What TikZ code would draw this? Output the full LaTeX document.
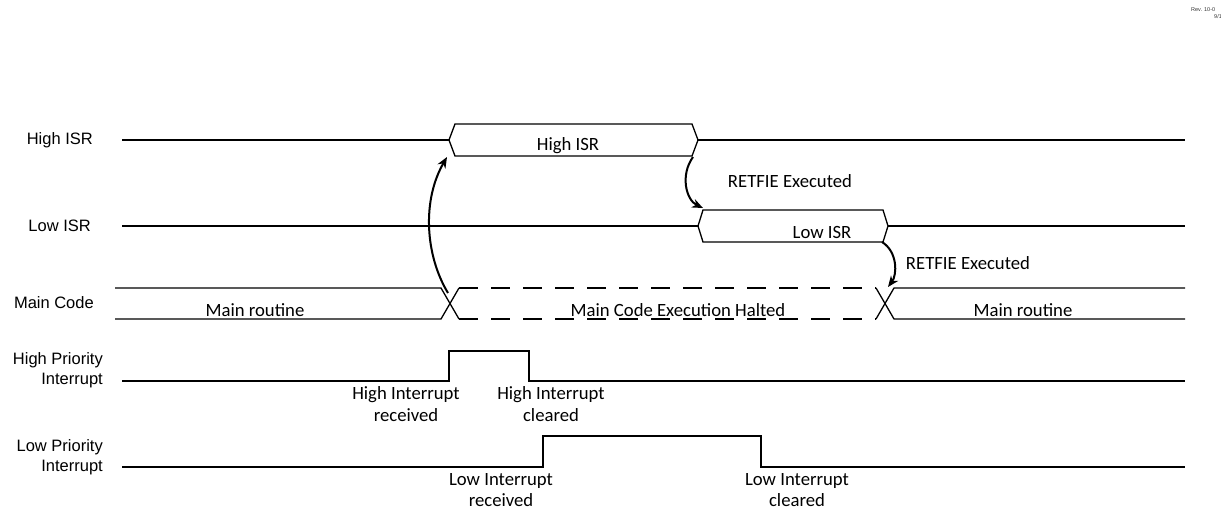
\documentclass[tikz,border=0pt]{standalone}
\usepackage{fontspec}
\newfontfamily\calfont{Carlito}
\newfontfamily\arifont{Liberation Sans}
\usetikzlibrary{arrows.meta}
\tikzset{
  sig/.style={line width=1.3pt, line join=miter},
  dsig/.style={line width=1.3pt, dash pattern=on 19pt off 13pt},
  evarrow/.style={line width=2pt, -{Stealth[length=11pt,width=9pt]}},
  lab/.style={font=\arifont\fontsize{16.5pt}{20pt}\selectfont, inner sep=0pt, align=right},
  txt/.style={font=\calfont\fontsize{18.7pt}{21.5pt}\selectfont, inner sep=0pt, align=center},
  rev/.style={font=\arifont\fontsize{5.5pt}{6pt}\selectfont, inner sep=0pt, text=black!80}
}
\begin{document}
\begin{tikzpicture}[x=1pt,y=-1pt]
\useasboundingbox (0,0) rectangle (1221,510);
% revision mark
\node[rev, anchor=west] (rev1) at (1191,10) {Rev. 10-0};
\node[rev, anchor=west] (rev2) at (1214,17) {9/1};
% left labels
\node[lab, anchor=east] (lhigh) at (93,140) {High ISR};
\node[lab, anchor=east] (llow) at (91,226) {Low ISR};
\node[lab, anchor=east] (lmain) at (94,303) {Main Code};
\node[lab, anchor=east] (lhp) at (103,370) {High Priority\\Interrupt};
\node[lab, anchor=east] (llp) at (103,457) {Low Priority\\Interrupt};
% High ISR row
\draw[sig] (122,140) -- (449,140);
\draw[sig] (449,140) -- (455,124) -- (692,124) -- (698,140) -- (692,156) -- (455,156) -- cycle;
\draw[sig] (698,140) -- (1185,140);
\node[txt] (thigh) at (568,146) {High ISR};
% Low ISR row
\draw[sig] (122,226) -- (698,226);
\draw[sig] (698,226) -- (703,210) -- (883,210) -- (888,226) -- (883,242) -- (703,242) -- cycle;
\draw[sig] (888,226) -- (1185,226);
\node[txt] (tlow) at (822,232) {Low ISR};
% Main code row
\draw[sig] (115,288) -- (441,288) -- (459,319);
\draw[sig] (115,319) -- (441,319) -- (459,288);
\draw[dsig] (459,288) -- (876,288);
\draw[dsig] (459,319) -- (876,319);
\draw[sig] (876,288) -- (894,319) -- (1185,319);
\draw[sig] (876,319) -- (894,288) -- (1185,288);
\node[txt] (tm1) at (255,310) {Main routine};
\node[txt] (tm2) at (678,310) {Main Code Execution Halted};
\node[txt] (tm3) at (1023,310) {Main routine};
% High priority interrupt
\draw[sig] (122,381) -- (449,381) -- (449,351) -- (529,351) -- (529,381) -- (1185,381);
\node[txt] (thr) at (406,404) {High Interrupt\\received};
\node[txt] (thc) at (551,404) {High Interrupt\\cleared};
% Low priority interrupt
\draw[sig] (122,467) -- (543,467) -- (543,436) -- (761,436) -- (761,467) -- (1185,467);
\node[txt] (tlr) at (501,490) {Low Interrupt\\received};
\node[txt] (tlc) at (797,490) {Low Interrupt\\cleared};
% event arrows
\coordinate (a1s) at (448,293);
\coordinate (a1e) at (447,157);
\coordinate (a2s) at (693,157);
\coordinate (a2e) at (703,208);
\coordinate (a3s) at (882,242);
\coordinate (a3e) at (888,287);
\draw[evarrow] (a1s) .. controls (425,255) and (422,200) .. (a1e);
\draw[evarrow] (a2s) .. controls (680,175) and (686,200) .. (a2e);
\draw[evarrow] (a3s) .. controls (898,252) and (897,275) .. (a3e);
\node[txt] (ret1) at (790,181) {RETFIE Executed};
\node[txt] (ret2) at (968,263) {RETFIE Executed};
\end{tikzpicture}
\end{document}
